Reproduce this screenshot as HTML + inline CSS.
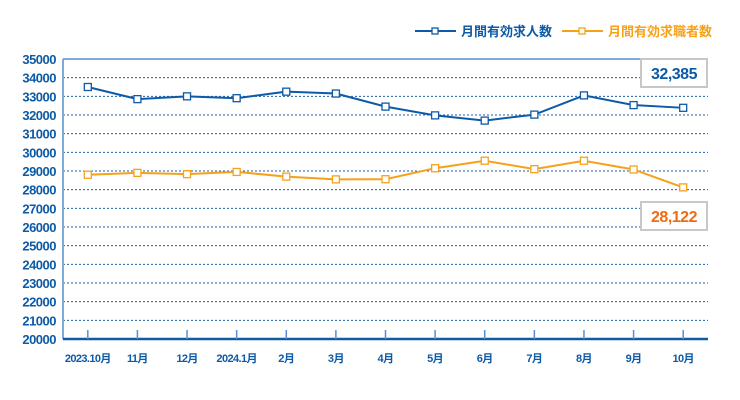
<!DOCTYPE html>
<html><head><meta charset="utf-8"><style>
body{margin:0;background:#fff;}
svg{display:block;font-family:"Liberation Sans","Noto Sans CJK JP",sans-serif;}
</style></head><body>
<svg id="c" width="740" height="400"></svg>
<script>
const categories=["2023.10月","11月","12月","2024.1月","2月","3月","4月","5月","6月","7月","8月","9月","10月"];
const seekers=[33500,32850,33000,32900,33250,33150,32450,31980,31700,32020,33050,32530,32385];
const applicants=[28800,28900,28830,28950,28700,28550,28560,29150,29550,29100,29550,29080,28122];
const yTicks=[20000,21000,22000,23000,24000,25000,26000,27000,28000,29000,30000,31000,32000,33000,34000,35000];
const lastLabels=["32,385","28,122"];
const NS="http://www.w3.org/2000/svg";
const svgEl=document.getElementById('c');
const L=63,R=708,T=59,B=339,yMin=20000,yMax=35000;
const xs=i=>L+(i+0.5)*(R-L)/categories.length;
const ys=v=>B-(v-yMin)/(yMax-yMin)*(B-T);
function mk(tag,attrs,parent){const e=document.createElementNS(NS,tag);for(const k in attrs)e.setAttribute(k,attrs[k]);(parent||svgEl).appendChild(e);return e;}
const BLUE="#0d5aa7",ORANGE="#f7a11a";
yTicks.forEach(v=>{
  if(v>yMin&&v<yMax){const g=mk('line',{x1:L,x2:R,y1:ys(v),y2:ys(v),stroke:"#1f5fa8","stroke-width":1,"stroke-dasharray":"2,2"});
  
  }
  const t=mk('text',{x:56,y:ys(v)+5,"text-anchor":"end","font-size":13,"font-weight":"bold",fill:BLUE,"letter-spacing":"-0.5"});
  t.textContent=v;
  
  
});
const topBorder=mk('line',{x1:L,x2:R,y1:T,y2:T,stroke:"#7fa9d6","stroke-width":2});


const ya=mk('line',{x1:L,x2:L,y1:T,y2:B,stroke:"#7fa9d6","stroke-width":2});


const xa=mk('line',{x1:L,x2:R,y1:B,y2:B,stroke:BLUE,"stroke-width":2.5});


categories.forEach((c,i)=>{
  const tk=mk('line',{x1:xs(i),x2:xs(i),y1:B-9,y2:B,stroke:"#5b8fcc","stroke-width":1.5});
  
  
  const t=mk('text',{x:xs(i),y:362,"text-anchor":"middle","font-size":11,"font-weight":"bold",fill:BLUE,"letter-spacing":"-0.6"});
  t.textContent=c;
  
  
});
function series(vals,col,name){
  const p=mk('polyline',{points:vals.map((v,i)=>xs(i)+","+ys(v)).join(" "),fill:"none",stroke:col,"stroke-width":2});
  
  
  vals.forEach((v,i)=>{
    const r=mk('rect',{x:xs(i)-3.5,y:ys(v)-3.5,width:7,height:7,fill:"#fff",stroke:col,"stroke-width":1.3});
    
    
  });
}
series(seekers,BLUE,'seekers');
series(applicants,ORANGE,'applicants');
function box(yy,txt,col,name){
  const r=mk('rect',{x:641,y:yy,width:66,height:28,fill:"#fff",stroke:"#c8c8c8","stroke-width":2});
  
  
  const t=mk('text',{x:674,y:yy+20,"text-anchor":"middle","font-size":16,"font-weight":"bold",fill:col,"letter-spacing":"-0.5"});
  t.textContent=txt;
  
  
}
box(59,lastLabels[0],BLUE,'seekers-latest');
box(202,lastLabels[1],"#f26a10",'applicants-latest');
function legend(x0,col,txt,name){
  const l=mk('line',{x1:x0,x2:x0+41,y1:31,y2:31,stroke:col,"stroke-width":2});
  
  
  const r=mk('rect',{x:x0+17,y:28,width:6,height:6,fill:"#fff",stroke:col,"stroke-width":1.3});
  
  
  const t=mk('text',{x:x0+46,y:36,"font-size":13,"font-weight":"bold",fill:col});
  t.textContent=txt;
  
  
}
legend(415,BLUE,"月間有効求人数",'seekers');
legend(562,ORANGE,"月間有効求職者数",'applicants');
</script>
</body></html>
